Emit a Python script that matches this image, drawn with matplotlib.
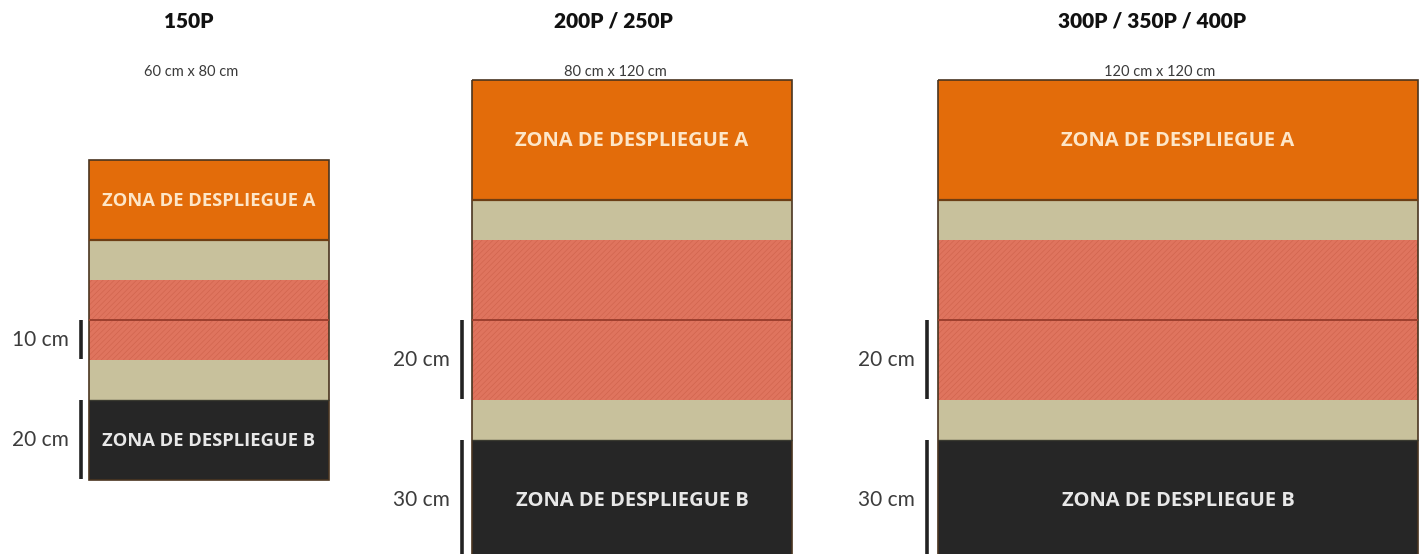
import matplotlib
matplotlib.use("Agg")
import matplotlib.pyplot as plt
import numpy as np

# ---------------- data ----------------
titles = ["150P", "200P / 250P", "300P / 350P / 400P"]
size_labels = ["60 cm x 80 cm", "80 cm x 120 cm", "120 cm x 120 cm"]
board_widths = [60, 80, 120]          # cm
board_depths = [80, 120, 120]         # cm
band_names = ["ZONA DE DESPLIEGUE A", "", "", "", "", "ZONA DE DESPLIEGUE B"]
band_heights_150 = [20, 10, 10, 10, 10, 20]   # cm, top to bottom
band_heights_200 = [30, 10, 20, 20, 10, 30]
band_heights_300 = [30, 10, 20, 20, 10, 30]
band_heights = [band_heights_150, band_heights_200, band_heights_300]
measure_labels = [["10 cm", "20 cm"], ["20 cm", "30 cm"], ["20 cm", "30 cm"]]
measure_bands = [3, 5]                # band index each measure spans

# ---------------- layout / style ----------------
S = 0.25  # cm per pixel (4 px per cm)
board_left = [89 * S, 472 * S, 938 * S]
board_top = [160 * S, 80 * S, 80 * S]
title_x = [189 * S, 613 * S, 1152 * S]
title_y = 21 * S
sub_x = [191 * S, 615 * S, 1160 * S]
sub_y = 72 * S
bar_x = [81 * S, 462 * S, 927 * S]

band_colors = ["#E36C0A", "#C8C19C", "#DF745E", "#DF745E", "#C8C19C", "#262626"]
band_hatch = [None, None, "//////", "//////", None, None]
text_colors = {0: "#FDE6C8", 5: "#E8E8E8"}
zone_fs = [13.2, 14.5, 14.5]

plt.rcParams["hatch.linewidth"] = 0.35

fig = plt.figure(figsize=(14.24, 5.54), dpi=100)
ax = fig.add_axes([0, 0, 1, 1])
ax.set_xlim(0, 1424 * S)
ax.set_ylim(554 * S, 0)
ax.axis("off")

for i in range(3):
    w = board_widths[i]
    left = board_left[i]
    top = board_top[i]
    hs = np.array(band_heights[i], dtype=float)
    tops = top + np.concatenate([[0], np.cumsum(hs)[:-1]])
    for j, (h, t) in enumerate(zip(hs, tops)):
        if band_hatch[j]:
            ax.bar(left, h, width=w, bottom=t, align="edge", color=band_colors[j],
                   edgecolor="#CC6049", hatch=band_hatch[j], linewidth=0)
        else:
            ax.bar(left, h, width=w, bottom=t, align="edge", color=band_colors[j],
                   linewidth=0)
        if band_names[j]:
            ax.text(left + w / 2, t + h / 2 + 0.3, band_names[j], ha="center", va="center",
                    color=text_colors[j], fontsize=zone_fs[i], fontweight="bold",
                    family=["Open Sans", "DejaVu Sans"])
    # dividers
    ax.hlines(tops[1], left, left + w, color="#6E3E14", lw=1.6)
    ax.hlines(tops[3], left, left + w, color="#9C3F2E", lw=1.4)
    ax.hlines(tops[5], left, left + w, color="#3A3A30", lw=1.0)
    # board outline
    ax.bar(left, hs.sum(), width=w, bottom=top, align="edge", fill=False,
           edgecolor="#4A3520", linewidth=1.2)
    # titles
    ax.text(title_x[i], title_y, titles[i], ha="center", va="center",
            fontsize=15, fontweight="heavy", color="#111111",
            family=["Lato", "DejaVu Sans"])
    ax.text(sub_x[i], sub_y, size_labels[i], ha="center", va="center",
            fontsize=10.5, color="#3A3A3A", family=["Lato", "DejaVu Sans"])
    # measures
    for lab, b in zip(measure_labels[i], measure_bands):
        y0 = tops[b]
        y1 = tops[b] + hs[b]
        ax.vlines(bar_x[i], y0, y1 - 0.25, color="#222222", lw=2.6)
        ax.text(bar_x[i] - 12 * S, (y0 + y1) / 2, lab, ha="right", va="center",
                fontsize=15, color="#3C3C3C", family=["Lato", "DejaVu Sans"])

fig.savefig("out.png", dpi=100, facecolor="white")
